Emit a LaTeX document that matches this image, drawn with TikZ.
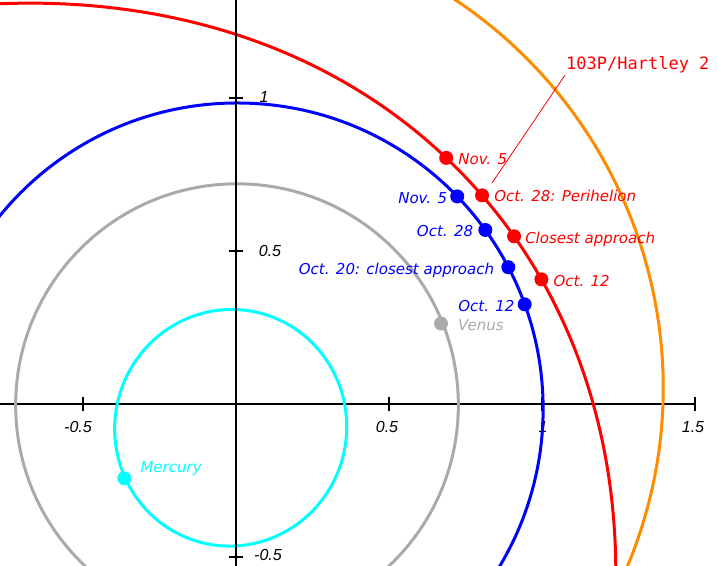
\documentclass[tikz,border=0pt]{standalone}
\usepackage{fontspec}
\setmainfont{DejaVu Sans}
\newfontfamily\tickfont{Liberation Sans}
\newfontfamily\titlefont{DejaVu Sans Mono}
\definecolor{venusgray}{RGB}{170,170,170}
\definecolor{marsorange}{RGB}{255,140,0}
\definecolor{mercurycyan}{RGB}{0,255,255}
\begin{document}
\begin{tikzpicture}[x=306pt,y=306pt,
  orbit/.style={line width=3pt},
  axisline/.style={line width=2.5pt, black},
  dot/.style={circle, inner sep=0pt, minimum size=14pt, fill},
  lbl/.style={font=\fontsize{15}{15}\selectfont\itshape, inner sep=0pt, text height=11pt, text depth=0pt},
  ticklbl/.style={font=\tickfont\fontsize{16}{16}\selectfont\itshape, inner sep=0pt, text height=11.5pt, text depth=0pt, black},
  titlelbl/.style={font=\titlefont\fontsize{17}{17}\selectfont, inner sep=0pt, text height=12.4pt, text depth=0pt, red}]
\useasboundingbox (-0.77124,-0.52614) rectangle (1.57190,1.32026);
\clip (-0.77124,-0.52614) rectangle (1.57190,1.32026);
% x axis
\coordinate (xl) at (-0.78,0);
\coordinate (xr) at (1.5,0);
\draw[axisline] (xl) -- (xr);
\foreach \t in {-0.5,0.5,1,1.5} \draw[axisline] (\t,-0.0229) -- (\t,0.0229);
% tick labels x
\node[ticklbl] (tx1) at (-0.5163,-0.0735) {-0.5};
\node[ticklbl] (tx2) at (0.4935,-0.0735) {0.5};
\node[ticklbl] (tx3) at (1.0033,-0.0735) {1};
\node[ticklbl] (tx4) at (1.4935,-0.0735) {1.5};
% orbits
\draw[orbit, mercurycyan] (-0.0173,-0.0777) circle[x radius=0.387, y radius=0.3788, rotate=77.46];
\draw[orbit, venusgray] (0.0033,-0.0037) circle[radius=0.7233];
\draw[orbit, blue] (0.0037,-0.0163) circle[radius=1];
\draw[orbit, marsorange] (-0.1300,0.0579) circle[x radius=1.527, y radius=1.520, rotate=-24];
\draw[orbit, red] (-1.2444,-1.1126) circle[x radius=2.7234, y radius=2.1519, rotate=41.82];
% y axis
\coordinate (yb) at (0,-0.53);
\coordinate (yt) at (0,1.33);
\draw[axisline] (yb) -- (yt);
\foreach \t in {-0.5,0.5,1} \draw[axisline] (-0.0229,\t) -- (0.0229,\t);
\node[ticklbl] (ty1) at (0.0915,1.0033) {1};
\node[ticklbl] (ty2) at (0.1111,0.5) {0.5};
\node[ticklbl] (ty3) at (0.1046,-0.4935) {-0.5};
% dots
\node[dot, mercurycyan] (mer) at (-0.365,-0.2428) {};
\node[dot, venusgray] (ven) at (0.670,0.263) {};
\node[dot, blue] (en5) at (0.7230,0.6784) {};
\node[dot, blue] (e28) at (0.8148,0.5687) {};
\node[dot, blue] (e20) at (0.8899,0.4470) {};
\node[dot, blue] (e12) at (0.9434,0.3257) {};
\node[dot, red] (cn5) at (0.6869,0.8043) {};
\node[dot, red] (c28) at (0.8041,0.6819) {};
\node[dot, red] (cca) at (0.9087,0.5481) {};
\node[dot, red] (c12) at (0.9981,0.4073) {};
% labels
\node[lbl, mercurycyan, anchor=west] (lmer) at ([xshift=16pt,yshift=11pt]mer.center) {Mercury};
\node[lbl, venusgray, anchor=west] (lven) at ([xshift=17pt,yshift=-1pt]ven.center) {Venus};
\node[lbl, blue, anchor=east] (len5) at ([xshift=-10pt,yshift=-1.5pt]en5.center) {Nov. 5};
\node[lbl, blue, anchor=east] (le28) at ([xshift=-12pt,yshift=-1.5pt]e28.center) {Oct. 28};
\node[lbl, blue, anchor=east] (le20) at ([xshift=-14pt,yshift=-1.5pt]e20.center) {Oct. 20: closest approach};
\node[lbl, blue, anchor=east] (le12) at ([xshift=-10pt,yshift=-1.5pt]e12.center) {Oct. 12};
\node[lbl, red, anchor=west] (lcn5) at ([xshift=12pt,yshift=-1.5pt]cn5.center) {Nov. 5};
\node[lbl, red, anchor=west] (lc28) at ([xshift=12pt,yshift=-1pt]c28.center) {Oct. 28: Perihelion};
\node[lbl, red, anchor=west] (lcca) at ([xshift=11pt,yshift=-1.5pt]cca.center) {Closest approach};
\node[lbl, red, anchor=west] (lc12) at ([xshift=12pt,yshift=-1.5pt]c12.center) {Oct. 12};
% comet title and leader
\node[titlelbl, anchor=west] (title) at (1.0784,1.1134) {103P/Hartley 2};
\coordinate (leadstart) at (0.8366,0.7222);
\coordinate (leadend) at (1.0752,1.0752);
\draw[red, line width=0.8pt] (leadstart) -- (leadend);
\end{tikzpicture}
\end{document}
